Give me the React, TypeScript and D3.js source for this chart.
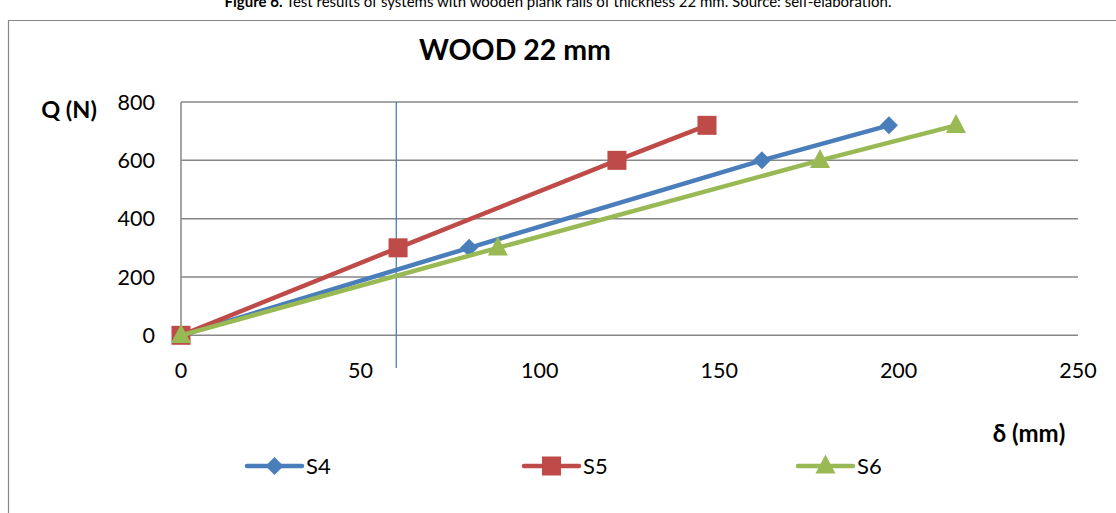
import React from "react";
import * as d3 from "d3";

const seriesNames = ["S4", "S5", "S6"];
const s4X = [0, 80.3, 161.9, 197.3];
const s4Y = [0, 300, 600, 720];
const s5X = [0, 60.5, 121.5, 146.6];
const s5Y = [0, 300, 600, 720];
const s6X = [0, 88.3, 178.1, 216];
const s6Y = [0, 300, 600, 720];
const xTicks = [0, 50, 100, 150, 200, 250];
const yTicks = [0, 200, 400, 600, 800];
const refLineX = 60;
const colors = ["#4a7ebb", "#be4b48", "#98b954"];
const markers = ["diamond", "square", "triangle"];

const FONT = "Lato, 'Open Sans', sans-serif";

function Marker({ type, x, y, color }: { type: string; x: number; y: number; color: string }) {
  if (type === "diamond") {
    const r = 9;
    return <path d={`M${x},${y - r}L${x + r},${y}L${x},${y + r}L${x - r},${y}Z`} fill={color} />;
  }
  if (type === "square") {
    const r = 9.5;
    return <rect x={x - r} y={y - r} width={2 * r} height={2 * r} fill={color} />;
  }
  const h = 19;
  const w = 20;
  return <path d={`M${x},${y - h * 0.6}L${x + w / 2},${y + h * 0.4}L${x - w / 2},${y + h * 0.4}Z`} fill={color} />;
}

export default function App() {
  const W = 1116;
  const H = 513;
  const x = d3.scaleLinear().domain([0, 250]).range([181, 1078]);
  const y = d3.scaleLinear().domain([0, 800]).range([335.3, 102]);
  const data = [
    s4X.map((v, i) => [v, s4Y[i]] as [number, number]),
    s5X.map((v, i) => [v, s5Y[i]] as [number, number]),
    s6X.map((v, i) => [v, s6Y[i]] as [number, number]),
  ];
  const line = d3
    .line<[number, number]>()
    .x((d) => x(d[0]))
    .y((d) => y(d[1]));
  const legendX = [247, 524, 798];
  const legendY = 466;

  return (
    <svg
      width={W}
      height={H}
      style={{ position: "absolute", left: 0, top: 0, background: "#fff" }}
      fontFamily={FONT}
    >
      <rect x={0} y={0} width={W} height={H} fill="#fff" />
      <text x={558} y={7} textAnchor="middle" fontSize={15} fill="#000">
        <tspan fontWeight="bold">Figure 6.</tspan> Test results of systems with wooden plank rails of thickness 22 mm. Source: self-elaboration.
      </text>
      {/* outer frame */}
      <path d={`M8.5,${H}V20.5H${W}`} fill="none" stroke="#888" strokeWidth={1.2} />

      <text x={515} y={60} textAnchor="middle" fontSize={28.5} fontWeight="bold" fill="#000">
        WOOD 22 mm
      </text>

      {/* gridlines */}
      {yTicks.map((t) => (
        <line key={t} x1={x(0)} x2={x(250)} y1={y(t)} y2={y(t)} stroke="#878787" strokeWidth={1.5} />
      ))}
      <line x1={x(0)} x2={x(0)} y1={y(800)} y2={y(0)} stroke="#878787" strokeWidth={1.5} />

      {/* y tick labels */}
      {yTicks.map((t) => (
        <text key={t} x={155} y={y(t)} dy="0.35em" textAnchor="end" fontSize={21.5} fill="#000">
          {t}
        </text>
      ))}
      {/* x tick labels */}
      {xTicks.map((t) => (
        <text key={t} x={x(t)} y={378} textAnchor="middle" fontSize={21.5} fill="#000">
          {t}
        </text>
      ))}

      <text x={69} y={118} textAnchor="middle" fontSize={23.5} fontWeight="bold" fill="#000">
        Q (N)
      </text>
      <text x={1029} y={442} textAnchor="middle" fontSize={24} fontWeight="bold" fill="#000">
        δ (mm)
      </text>

      {/* reference vertical line */}
      <line x1={x(refLineX)} x2={x(refLineX)} y1={y(800)} y2={368} stroke="#4a7ebb" strokeWidth={1.3} />

      {/* series */}
      {data.map((d, i) => (
        <g key={seriesNames[i]}>
          <path d={line(d) || ""} fill="none" stroke={colors[i]} strokeWidth={4.5} strokeLinejoin="round" strokeLinecap="round" />
          {d.map((p, j) => (
            <Marker key={j} type={markers[i]} x={x(p[0])} y={y(p[1])} color={colors[i]} />
          ))}
        </g>
      ))}

      {/* legend */}
      {seriesNames.map((n, i) => (
        <g key={n}>
          <line x1={legendX[i]} x2={legendX[i] + 55} y1={legendY} y2={legendY} stroke={colors[i]} strokeWidth={4.5} strokeLinecap="round" />
          <Marker type={markers[i]} x={legendX[i] + 27.5} y={legendY} color={colors[i]} />
          <text x={legendX[i] + 59} y={legendY} dy="0.35em" fontSize={22} fill="#000">
            {n}
          </text>
        </g>
      ))}
    </svg>
  );
}
